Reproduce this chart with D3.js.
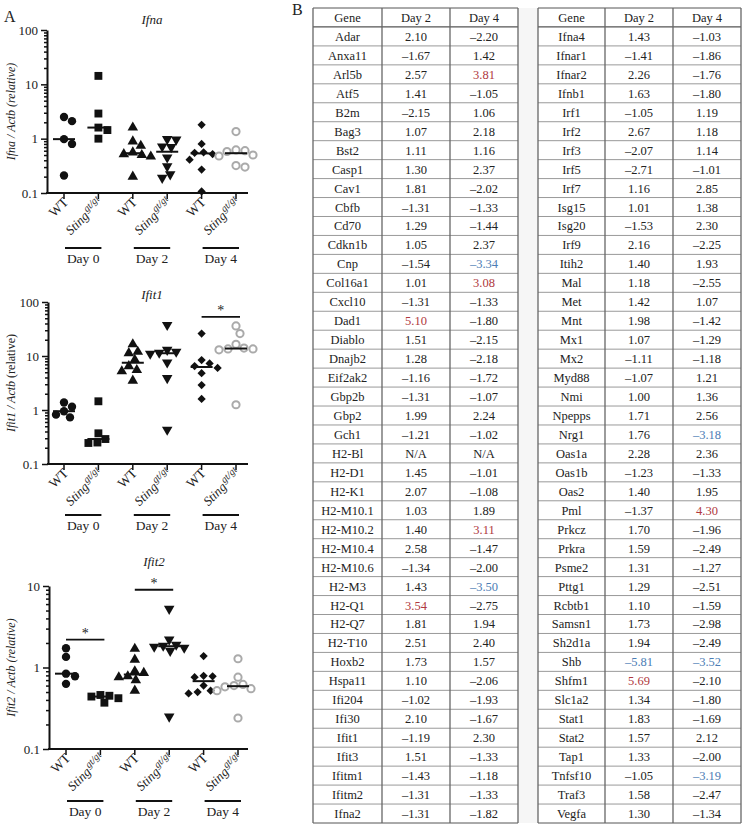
<!DOCTYPE html>
<html>
<head>
<meta charset="utf-8">
<script src="https://cdn.jsdelivr.net/npm/d3@7"></script>
<style>
  body { margin: 0; background: #fff; }
  svg, text { font-family: "Liberation Serif", "DejaVu Serif", serif; }
  text { fill: #222; }
</style>
</head>
<body>
<div id="chart"></div>
<script>

    // ---- panel A data ----
    var groups = ['WT0', 'Sting0', 'WT2', 'Sting2', 'WT4', 'Sting4'];
    var dayLabels = ['Day 0', 'Day 2', 'Day 4'];

    var ifnaValues = [
        [2.5, 2.1, 0.98, 0.8, 0.21],
        [14.3, 2.9, 1.6, 1.44, 1.0],
        [1.6, 0.89, 0.74, 0.56, 0.52, 0.5, 0.47, 0.2],
        [0.98, 0.96, 0.72, 0.7, 0.45, 0.31, 0.22, 0.19],
        [1.8, 0.8, 0.56, 0.55, 0.52, 0.41, 0.27, 0.107],
        [1.35, 0.62, 0.6, 0.58, 0.5, 0.48, 0.32, 0.3]
    ];
    var ifit1Values = [
        [1.38, 1.15, 0.95, 0.82, 0.73],
        [1.45, 0.37, 0.29, 0.25, 0.245],
        [16.5, 12, 11.3, 8.5, 6.5, 5.5, 5.2, 3.5],
        [37.5, 13, 12, 11.5, 11, 7.6, 3.9, 0.43],
        [26, 8.4, 7.3, 6.5, 6.0, 4.8, 2.9, 1.6],
        [36, 26, 16.5, 14, 13.5, 13.5, 13, 1.25]
    ];
    var ifit2Values = [
        [1.72, 1.35, 0.84, 0.78, 0.63],
        [0.46, 0.45, 0.44, 0.42, 0.37],
        [1.7, 1.25, 0.9, 0.86, 0.78, 0.76, 0.7, 0.52],
        [5.25, 2.2, 1.9, 1.85, 1.8, 1.75, 1.6, 0.25],
        [1.38, 0.79, 0.78, 0.76, 0.6, 0.52, 0.5, 0.48],
        [1.28, 0.76, 0.62, 0.6, 0.58, 0.55, 0.52, 0.24]
    ];

    var ticksThree = [0.1, 1, 10, 100];
    var ticksTwo = [0.1, 1, 10];

    // significance bars: [group a, group b, height in data units]
    var ifit1Stars = [[4, 5, 53]];
    var ifit2Stars = [[0, 1, 2.2], [2, 3, 9.0]];

    // ---- panel B data ----
    var leftGenes = ['Adar','Anxa11','Arl5b','Atf5','B2m','Bag3','Bst2','Casp1','Cav1','Cbfb','Cd70','Cdkn1b','Cnp','Col16a1','Cxcl10','Dad1','Diablo','Dnajb2','Eif2ak2','Gbp2b','Gbp2','Gch1','H2-Bl','H2-D1','H2-K1','H2-M10.1','H2-M10.2','H2-M10.4','H2-M10.6','H2-M3','H2-Q1','H2-Q7','H2-T10','Hoxb2','Hspa11','Ifi204','Ifi30','Ifit1','Ifit3','Ifitm1','Ifitm2','Ifna2'];
    var leftDay2 = [2.10,-1.67,2.57,1.41,-2.15,1.07,1.11,1.30,1.81,-1.31,1.29,1.05,-1.54,1.01,-1.31,5.10,1.51,1.28,-1.16,-1.31,1.99,-1.21,null,1.45,2.07,1.03,1.40,2.58,-1.34,1.43,3.54,1.81,2.51,1.73,1.10,-1.02,2.10,-1.19,1.51,-1.43,-1.31,-1.31];
    var leftDay4 = [-2.20,1.42,3.81,-1.05,1.06,2.18,1.16,2.37,-2.02,-1.33,-1.44,2.37,-3.34,3.08,-1.33,-1.80,-2.15,-2.18,-1.72,-1.07,2.24,-1.02,null,-1.01,-1.08,1.89,3.11,-1.47,-2.00,-3.50,-2.75,1.94,2.40,1.57,-2.06,-1.93,-1.67,2.30,-1.33,-1.18,-1.33,-1.82];
    var rightGenes = ['Ifna4','Ifnar1','Ifnar2','Ifnb1','Irf1','Irf2','Irf3','Irf5','Irf7','Isg15','Isg20','Irf9','Itih2','Mal','Met','Mnt','Mx1','Mx2','Myd88','Nmi','Npepps','Nrg1','Oas1a','Oas1b','Oas2','Pml','Prkcz','Prkra','Psme2','Pttg1','Rcbtb1','Samsn1','Sh2d1a','Shb','Shfm1','Slc1a2','Stat1','Stat2','Tap1','Tnfsf10','Traf3','Vegfa'];
    var rightDay2 = [1.43,-1.41,2.26,1.63,-1.05,2.67,-2.07,-2.71,1.16,1.01,-1.53,2.16,1.40,1.18,1.42,1.98,1.07,-1.11,-1.07,1.00,1.71,1.76,2.28,-1.23,1.40,-1.37,1.70,1.59,1.31,1.29,1.10,1.73,1.94,-5.81,5.69,1.34,1.83,1.57,1.33,-1.05,1.58,1.30];
    var rightDay4 = [-1.03,-1.86,-1.76,-1.80,1.19,1.18,1.14,-1.01,2.85,1.38,2.30,-2.25,1.93,-2.55,1.07,-1.42,-1.29,-1.18,1.21,1.36,2.56,-3.18,2.36,-1.33,1.95,4.30,-1.96,-2.49,-1.27,-2.51,-1.59,-2.98,-2.49,-3.52,-2.10,-1.80,-1.69,2.12,-2.00,-3.19,-2.47,-1.34];
    var headers = ['Gene', 'Day 2', 'Day 4'];

    var width = 742, height = 825;
    var serif = '"Liberation Serif", "DejaVu Serif", serif';

    var svg = d3.select('#chart').append('svg')
        .attr('width', width)
        .attr('height', height)
        .attr('font-family', serif);

    svg.append('text').attr('x', 4).attr('y', 22).style('font-size', '16px').text('A');
    svg.append('text').attr('x', 292).attr('y', 15).style('font-size', '16px').text('B');

    // ---------------- panel A ----------------
    var panels = [
        { title: 'Ifna', values: ifnaValues, ticks: ticksThree, top: 30, bottom: 193, axisX: 47,
          xRange: [64, 236], titleY: 24, gene: 'Ifna', relItalic: true, stars: [], dayGap: 55 },
        { title: 'Ifit1', values: ifit1Values, ticks: ticksThree, top: 302, bottom: 464, axisX: 48,
          xRange: [64, 236], titleY: 299, gene: 'Ifit1', relItalic: false, stars: ifit1Stars, dayGap: 51 },
        { title: 'Ifit2', values: ifit2Values, ticks: ticksTwo, top: 586, bottom: 749, axisX: 49,
          xRange: [66, 238], titleY: 566, gene: 'Ifit2', relItalic: true, stars: ifit2Stars, dayGap: 52 }
    ];

    var shapes = [
        { type: d3.symbolCircle, size: 55, rotate: 0 },
        { type: d3.symbolSquare, size: 62, rotate: 0 },
        { type: d3.symbolTriangle, size: 48, rotate: 0 },
        { type: d3.symbolTriangle, size: 48, rotate: 180 },
        { type: d3.symbolSquare, size: 34, rotate: 45 },
        null // open grey circle
    ];

    // simple beeswarm so that overlapping points are pushed sideways
    function swarm(vals, y, diam) {
        var placed = [];
        return vals.map(function(v) {
            var py = y(v), dx = 0;
            for (var k = 0; k < 40; k++) {
                var cands = k === 0 ? [0] : [k, -k], ok = null;
                for (var c = 0; c < cands.length; c++) {
                    var free = placed.every(function(p) {
                        return (cands[c] - p.dx) * (cands[c] - p.dx) + (py - p.y) * (py - p.y) >= diam * diam;
                    });
                    if (free) { ok = cands[c]; break; }
                }
                if (ok !== null) { dx = ok; break; }
            }
            placed.push({ dx: dx, y: py });
            return { v: v, dx: dx, y: py };
        });
    }

    panels.forEach(function(p) {
        var lo = p.ticks[0], hi = p.ticks[p.ticks.length - 1];
        var y = d3.scaleLog().domain([lo, hi]).range([p.bottom, p.top]);
        var x = d3.scalePoint().domain(groups).range(p.xRange);

        var g = svg.append('g');

        // title
        g.append('text')
            .attr('x', (p.xRange[0] + p.xRange[1]) / 2 + 2)
            .attr('y', p.titleY)
            .attr('text-anchor', 'middle')
            .style('font-size', '13px')
            .style('font-style', 'italic')
            .text(p.title);

        // y axis with minor ticks
        var allTicks = [];
        p.ticks.forEach(function(t, i) {
            if (i < p.ticks.length - 1) {
                for (var m = 1; m < 10; m++) allTicks.push(t * m);
            } else allTicks.push(t);
        });
        var isMajor = function(d) { return p.ticks.some(function(t) { return Math.abs(t - d) < 1e-9; }); };

        var yAxis = d3.axisLeft(y)
            .tickValues(allTicks)
            .tickSize(5)
            .tickSizeOuter(0)
            .tickFormat(function(d) { return isMajor(d) ? (d < 1 ? '0.1' : String(d)) : ''; });

        var ya = g.append('g')
            .attr('transform', 'translate(' + p.axisX + ',0)')
            .call(yAxis)
            .attr('font-family', serif);
        ya.select('.domain').attr('stroke', '#111').attr('stroke-width', 2);
        ya.selectAll('.tick line')
            .attr('stroke', '#111')
            .attr('stroke-width', 1.5)
            .attr('x2', function(d) { return isMajor(d) ? -6 : -3; });
        ya.selectAll('.tick text')
            .attr('x', -9)
            .style('font-size', '13px')
            .attr('fill', '#222');

        // x axis
        var xa = g.append('g')
            .attr('transform', 'translate(0,' + p.bottom + ')');
        xa.append('line')
            .attr('x1', p.axisX - 1).attr('x2', 248)
            .attr('stroke', '#111').attr('stroke-width', 2);
        xa.selectAll('.xt').data(groups).enter().append('line')
            .attr('x1', function(d) { return x(d); })
            .attr('x2', function(d) { return x(d); })
            .attr('y1', 0).attr('y2', 6)
            .attr('stroke', '#111').attr('stroke-width', 1.5);

        // rotated category labels
        groups.forEach(function(gr, i) {
            var t = xa.append('text')
                .attr('transform', 'translate(' + (x(gr) + 5) + ',' + 10 + ') rotate(-45)')
                .attr('text-anchor', 'end')
                .style('font-size', '13.5px');
            if (i % 2 === 0) {
                t.text('WT');
            } else {
                t.append('tspan').style('font-style', 'italic').style('font-size', '13px').text('Sting');
                t.append('tspan').style('font-style', 'italic').style('font-size', '10px')
                    .attr('dy', -5).attr('dx', 1).text('gt/gt');
            }
        });

        // day bars
        dayLabels.forEach(function(dl, i) {
            var a = x(groups[2 * i]), b = x(groups[2 * i + 1]);
            xa.append('line')
                .attr('x1', a + 1).attr('x2', b + 3)
                .attr('y1', p.dayGap).attr('y2', p.dayGap)
                .attr('stroke', '#111').attr('stroke-width', 2);
            xa.append('text')
                .attr('x', (a + b) / 2 + 2)
                .attr('y', p.dayGap + 15)
                .attr('text-anchor', 'middle')
                .style('font-size', '13.5px')
                .text(dl);
        });

        // y label
        var mid = (p.top + p.bottom) / 2;
        var yl = g.append('text')
            .attr('transform', 'translate(15,' + mid + ') rotate(-90)')
            .attr('text-anchor', 'middle')
            .style('font-size', '12px');
        yl.append('tspan').style('font-style', 'italic').text(p.gene + ' / Actb ');
        yl.append('tspan').style('font-style', p.relItalic ? 'italic' : 'normal').text('(relative)');

        // points
        p.values.forEach(function(vals, gi) {
            var cx = x(groups[gi]);
            var pts = swarm(vals, y, 8.5);
            var shp = shapes[gi];
            var pg = g.append('g');
            if (shp) {
                pg.selectAll('path').data(pts).enter().append('path')
                    .attr('d', d3.symbol().type(shp.type).size(shp.size))
                    .attr('transform', function(d) {
                        return 'translate(' + (cx + d.dx) + ',' + d.y + ') rotate(' + shp.rotate + ')';
                    })
                    .attr('fill', '#111');
            } else {
                pg.selectAll('circle').data(pts).enter().append('circle')
                    .attr('cx', function(d) { return cx + d.dx; })
                    .attr('cy', function(d) { return d.y; })
                    .attr('r', 3.6)
                    .attr('fill', 'none')
                    .attr('stroke', '#aaa')
                    .attr('stroke-width', 2);
            }
            var med = d3.median(vals);
            g.append('line')
                .attr('x1', cx - 11).attr('x2', cx + 11)
                .attr('y1', y(med)).attr('y2', y(med))
                .attr('stroke', '#111').attr('stroke-width', 2);
        });

        // significance bars
        p.stars.forEach(function(s) {
            var a = x(groups[s[0]]), b = x(groups[s[1]]), sy = y(s[2]);
            g.append('line')
                .attr('x1', a).attr('x2', b + 4)
                .attr('y1', sy).attr('y2', sy)
                .attr('stroke', '#111').attr('stroke-width', 1.8);
            g.append('text')
                .attr('x', (a + b) / 2 + 2)
                .attr('y', sy - 2)
                .attr('text-anchor', 'middle')
                .style('font-size', '14px')
                .text('*');
        });
    });

    // ---------------- panel B ----------------
    var fmt = d3.format('.2f');
    function cellText(v) { return v === null ? 'N/A' : fmt(v).replace(/[-\u2212]/, '\u2013'); }
    function cellColor(v) {
        if (v === null) return '#222';
        if (v >= 3) return '#b0383e';
        if (v <= -3) return '#4c7db5';
        return '#222';
    }

    var rowScale = d3.scaleBand()
        .domain(d3.range(leftGenes.length + 1))
        .range([8, 823]);

    // light strip between the two tables
    svg.append('rect').attr('x', 518).attr('y', 8).attr('width', 20).attr('height', 815)
        .attr('fill', '#f6f6f6');

    function drawTable(x0, colW, genes, d2, d4) {
        var cols = [x0, x0 + colW[0], x0 + colW[0] + colW[1], x0 + colW[0] + colW[1] + colW[2]];
        var t = svg.append('g');
        var rows = [headers].concat(genes.map(function(gname, i) { return [gname, d2[i], d4[i]]; }));

        t.append('rect')
            .attr('x', cols[0]).attr('y', rowScale(0))
            .attr('width', cols[3] - cols[0]).attr('height', rowScale.bandwidth() * rows.length)
            .attr('fill', '#fff');

        // horizontal lines
        t.selectAll('.hl').data(d3.range(rows.length + 1)).enter().append('line')
            .attr('x1', cols[0]).attr('x2', cols[3])
            .attr('y1', function(i) { return rowScale(0) + i * rowScale.bandwidth(); })
            .attr('y2', function(i) { return rowScale(0) + i * rowScale.bandwidth(); })
            .attr('stroke', function(i) { return (i === 0 || i === 1 || i === rows.length) ? '#555' : '#999'; })
            .attr('stroke-width', function(i) { return (i === 1) ? 1.3 : 1; });

        // vertical lines
        t.selectAll('.vl').data(cols).enter().append('line')
            .attr('x1', function(d) { return d; }).attr('x2', function(d) { return d; })
            .attr('y1', rowScale(0)).attr('y2', rowScale(0) + rowScale.bandwidth() * rows.length)
            .attr('stroke', '#666').attr('stroke-width', 1.3);

        rows.forEach(function(r, ri) {
            var cy = rowScale(ri) + rowScale.bandwidth() / 2 + 4.5;
            r.forEach(function(c, ci) {
                var isVal = ri > 0 && ci > 0;
                t.append('text')
                    .attr('x', (cols[ci] + cols[ci + 1]) / 2)
                    .attr('y', cy)
                    .attr('text-anchor', 'middle')
                    .style('font-size', '12.5px')
                    .style('fill', isVal ? cellColor(c) : '#222')
                    .text(isVal ? cellText(c) : c);
            });
        });
    }

    drawTable(313, [69, 68, 68], leftGenes, leftDay2, leftDay4);
    drawTable(538, [67, 68, 68], rightGenes, rightDay2, rightDay4);

</script>
</body>
</html>
